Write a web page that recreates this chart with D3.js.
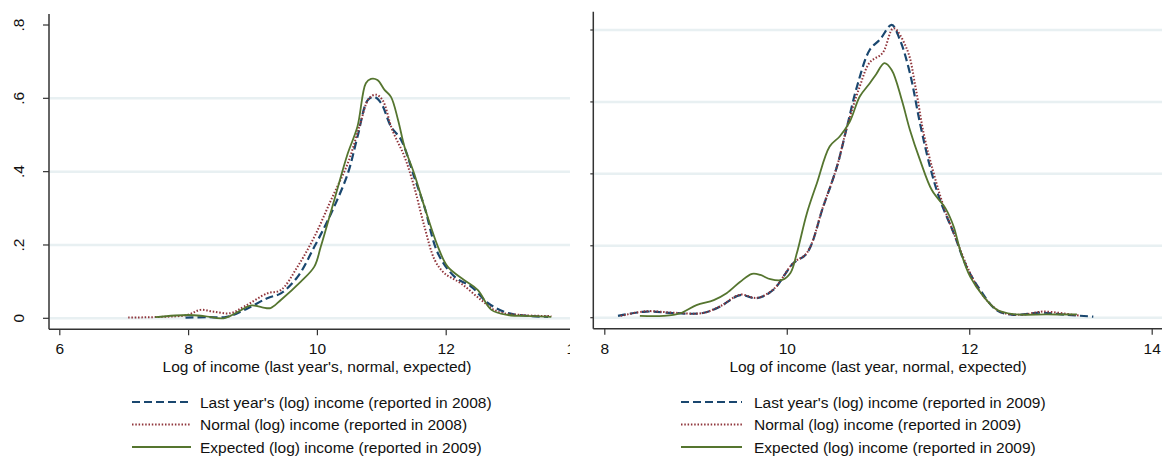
<!DOCTYPE html>
<html>
<head>
<meta charset="utf-8">
<script src="https://cdn.jsdelivr.net/npm/d3@7"></script>
<style>
  body { margin: 0; background: #fff; }
  text { font-family: "Liberation Sans", Arial, sans-serif; fill: #111; }
</style>
</head>
<body>
<svg id="chart" width="1162" height="458"></svg>
<script>
// tick values
var yTicks = [0, 0.2, 0.4, 0.6, 0.8];
var yTickLabels = ["0", ".2", ".4", ".6", ".8"];
var leftXTicks = [6, 8, 10, 12, 14];
var rightXTicks = [8, 10, 12, 14];

// series names
var leftNames = ["Last year's (log) income (reported in 2008)",
                 "Normal (log) income (reported in 2008)",
                 "Expected (log) income (reported in 2009)"];
var rightNames = ["Last year's (log) income (reported in 2009)",
                  "Normal (log) income (reported in 2009)",
                  "Expected (log) income (reported in 2009)"];

// left panel densities [log income, density]
var leftLast = [[7.96,0.002],[8.3,0.003],[8.6,0.004],[8.9,0.025],[9.23,0.055],[9.44,0.068],[9.70,0.113],[9.96,0.195],
  [10.22,0.286],[10.48,0.395],[10.63,0.495],[10.79,0.595],[10.89,0.604],[11.0,0.586],[11.15,0.523],
  [11.31,0.486],[11.51,0.386],[11.67,0.304],[11.88,0.177],[12.14,0.113],[12.40,0.086],[12.66,0.041],
  [12.97,0.014],[13.33,0.006],[13.59,0.004]];
var leftNormal = [[7.07,0.002],[7.6,0.004],[7.99,0.009],[8.19,0.023],[8.40,0.018],[8.66,0.014],[8.87,0.032],
  [9.23,0.068],[9.44,0.077],[9.70,0.141],[9.96,0.222],[10.22,0.323],[10.48,0.423],[10.66,0.523],
  [10.81,0.60],[10.92,0.61],[11.02,0.595],[11.17,0.514],[11.36,0.441],[11.51,0.359],[11.67,0.25],
  [11.83,0.159],[11.98,0.123],[12.24,0.095],[12.55,0.05],[12.81,0.018],[13.17,0.009],[13.64,0.006]];
var leftExpected = [[7.49,0.003],[8.0,0.009],[8.25,0.006],[8.55,0.0],[8.75,0.015],[8.98,0.035],[9.15,0.03],
  [9.28,0.028],[9.44,0.05],[9.75,0.1],[9.96,0.141],[10.06,0.195],[10.27,0.323],[10.48,0.45],
  [10.63,0.523],[10.76,0.641],[10.84,0.653],[10.94,0.65],[11.05,0.623],[11.15,0.604],[11.26,0.541],
  [11.36,0.468],[11.51,0.395],[11.67,0.304],[11.88,0.195],[12.03,0.141],[12.29,0.104],[12.50,0.077],
  [12.71,0.023],[12.97,0.009],[13.33,0.006],[13.64,0.004]];

// right panel densities
var rightLast = [[8.15,0.005],[8.46,0.017],[8.75,0.013],[9.08,0.013],[9.27,0.031],[9.49,0.063],[9.67,0.054],
  [9.85,0.077],[10.07,0.151],[10.22,0.179],[10.40,0.309],[10.55,0.42],[10.66,0.531],[10.77,0.643],
  [10.91,0.745],[11.02,0.773],[11.15,0.814],[11.24,0.773],[11.35,0.68],[11.46,0.541],[11.57,0.42],
  [11.68,0.327],[11.83,0.235],[11.97,0.142],[12.12,0.077],[12.30,0.021],[12.48,0.008],[12.78,0.014],
  [13.07,0.008],[13.36,0.003]];
var rightNormal = [[8.18,0.005],[8.46,0.018],[8.75,0.014],[9.08,0.013],[9.27,0.032],[9.49,0.064],[9.67,0.055],
  [9.85,0.078],[10.07,0.152],[10.22,0.18],[10.40,0.31],[10.55,0.42],[10.66,0.53],[10.80,0.643],
  [10.91,0.71],[11.05,0.736],[11.17,0.805],[11.32,0.745],[11.41,0.643],[11.50,0.513],[11.61,0.402],
  [11.72,0.309],[11.86,0.216],[12.01,0.124],[12.16,0.058],[12.34,0.017],[12.56,0.008],[12.81,0.017],
  [13.14,0.008],[13.2,0.006]];
var rightExpected = [[8.39,0.005],[8.65,0.005],[8.83,0.012],[9.01,0.035],[9.20,0.049],[9.34,0.068],[9.49,0.1],
  [9.62,0.122],[9.71,0.119],[9.82,0.107],[9.95,0.105],[10.04,0.124],[10.11,0.179],[10.22,0.29],
  [10.33,0.374],[10.47,0.476],[10.58,0.504],[10.69,0.545],[10.80,0.615],[10.91,0.652],[10.98,0.677],
  [11.07,0.708],[11.15,0.689],[11.26,0.606],[11.35,0.522],[11.46,0.439],[11.59,0.355],[11.74,0.304],
  [11.83,0.253],[11.90,0.188],[12.01,0.114],[12.16,0.058],[12.30,0.023],[12.48,0.01],[12.85,0.009],
  [13.18,0.009]];

var styles = [
  { color: "#1a476f", dash: "8,4", width: 2.2 },
  { color: "#90353b", dash: "1.5,1.8", width: 2 },
  { color: "#55752f", dash: null, width: 1.8 }
];
var gridColor = "#e8f0f2";
var axisColor = "#333";
var fontSize = 15.5;

var svg = d3.select("#chart");

function drawPanel(p) {
  var x = d3.scaleLinear().domain(p.xDomain).range(p.xRange);
  var y = d3.scaleLinear().domain([0, 0.8]).range(p.yRange);

  var clipId = "clip-" + p.id;
  svg.append("clipPath").attr("id", clipId)
    .append("rect").attr("x", 0).attr("y", 0)
    .attr("width", p.clipRight).attr("height", 458);
  var g = svg.append("g").attr("clip-path", "url(#" + clipId + ")");

  // grid lines
  g.selectAll(".grid").data(yTicks.filter(function (t) { return t < p.gridMax; }))
    .enter().append("line")
    .attr("x1", p.axisX + 1).attr("x2", p.gridRight)
    .attr("y1", function (d) { return y(d); }).attr("y2", function (d) { return y(d); })
    .attr("stroke", gridColor).attr("stroke-width", 2.5);

  // curves
  var line = d3.line()
    .x(function (d) { return x(d[0]); })
    .y(function (d) { return y(d[1]); })
    .curve(d3.curveCatmullRom.alpha(0.5));
  p.series.forEach(function (s, i) {
    var st = styles[i];
    g.append("path").datum(s)
      .attr("d", line)
      .attr("fill", "none")
      .attr("stroke", st.color)
      .attr("stroke-width", st.width)
      .attr("stroke-dasharray", st.dash);
  });

  // y axis (labels rotated, as Stata draws them)
  var yAxis = d3.axisLeft(y).tickValues(yTicks).tickSize(p.yTickSize)
    .tickFormat(function (d, i) { return p.yLabels ? yTickLabels[i] : ""; });
  var ya = g.append("g").attr("transform", "translate(" + p.axisX + ",0)").call(yAxis);
  ya.select(".domain").remove();
  ya.selectAll("line").attr("stroke", axisColor).attr("stroke-width", 1.2);
  ya.selectAll(".tick").each(function (d) {
    var t = d3.select(this);
    t.attr("transform", null);
    t.select("line").attr("y1", y(d)).attr("y2", y(d));
    t.select("text")
      .attr("font-size", fontSize)
      .attr("x", -25).attr("y", y(d)).attr("dy", "0")
      .attr("text-anchor", "middle")
      .attr("transform", "rotate(-90," + (-25) + "," + y(d) + ")")
      .style("font-family", "Liberation Sans, Arial, sans-serif");
  });
  g.append("line")
    .attr("x1", p.axisX).attr("x2", p.axisX)
    .attr("y1", p.axisTop).attr("y2", p.axisY)
    .attr("stroke", axisColor).attr("stroke-width", 1.5);

  // x axis
  var xAxis = d3.axisBottom(x).tickValues(p.xTicks).tickSize(6).tickFormat(d3.format("d"));
  var xa = g.append("g").attr("transform", "translate(0," + p.axisY + ")").call(xAxis);
  xa.select(".domain").remove();
  xa.selectAll("line").attr("stroke", axisColor).attr("stroke-width", 1.2);
  xa.selectAll("text").attr("font-size", fontSize).attr("y", 25).attr("dy", "0")
    .style("font-family", "Liberation Sans, Arial, sans-serif").attr("fill", "#111");
  g.append("line")
    .attr("x1", p.axisX).attr("x2", p.axisRight)
    .attr("y1", p.axisY).attr("y2", p.axisY)
    .attr("stroke", axisColor).attr("stroke-width", 1.5);

  // axis title
  svg.append("text").attr("x", p.titleX).attr("y", 372)
    .attr("text-anchor", "middle").attr("font-size", fontSize)
    .text(p.title);

  // legend
  var lg = svg.append("g");
  p.names.forEach(function (name, i) {
    var st = styles[i];
    var cy = 402 + i * 22.5;
    lg.append("line")
      .attr("x1", p.legendX).attr("x2", p.legendX + p.legendLen)
      .attr("y1", cy).attr("y2", cy)
      .attr("stroke", st.color).attr("stroke-width", st.width)
      .attr("stroke-dasharray", st.dash);
    lg.append("text")
      .attr("x", p.legendText).attr("y", cy + 5.5)
      .attr("font-size", fontSize)
      .text(name);
  });
}

drawPanel({
  id: "left",
  xDomain: [6, 14], xRange: [59.3, 574.5],
  yRange: [318.3, 25],
  axisX: 49, axisY: 329.3, axisTop: 14, axisRight: 570,
  clipRight: 570, gridRight: 570, gridMax: 0.75,
  yTickSize: 6, yLabels: true,
  xTicks: leftXTicks,
  series: [leftLast, leftNormal, leftExpected],
  names: leftNames,
  title: "Log of income (last year's, normal, expected)", titleX: 317,
  legendX: 132, legendLen: 59, legendText: 200
});

drawPanel({
  id: "right",
  xDomain: [8, 14], xRange: [604.3, 1151.7],
  yRange: [317.7, 30],
  axisX: 593.3, axisY: 328.7, axisTop: 11.7, axisRight: 1162,
  clipRight: 1162, gridRight: 1162, gridMax: 0.85,
  yTickSize: 3, yLabels: false,
  xTicks: rightXTicks,
  series: [rightLast, rightNormal, rightExpected],
  names: rightNames,
  title: "Log of income (last year, normal, expected)", titleX: 878,
  legendX: 681, legendLen: 61, legendText: 754
});
</script>
</body>
</html>
